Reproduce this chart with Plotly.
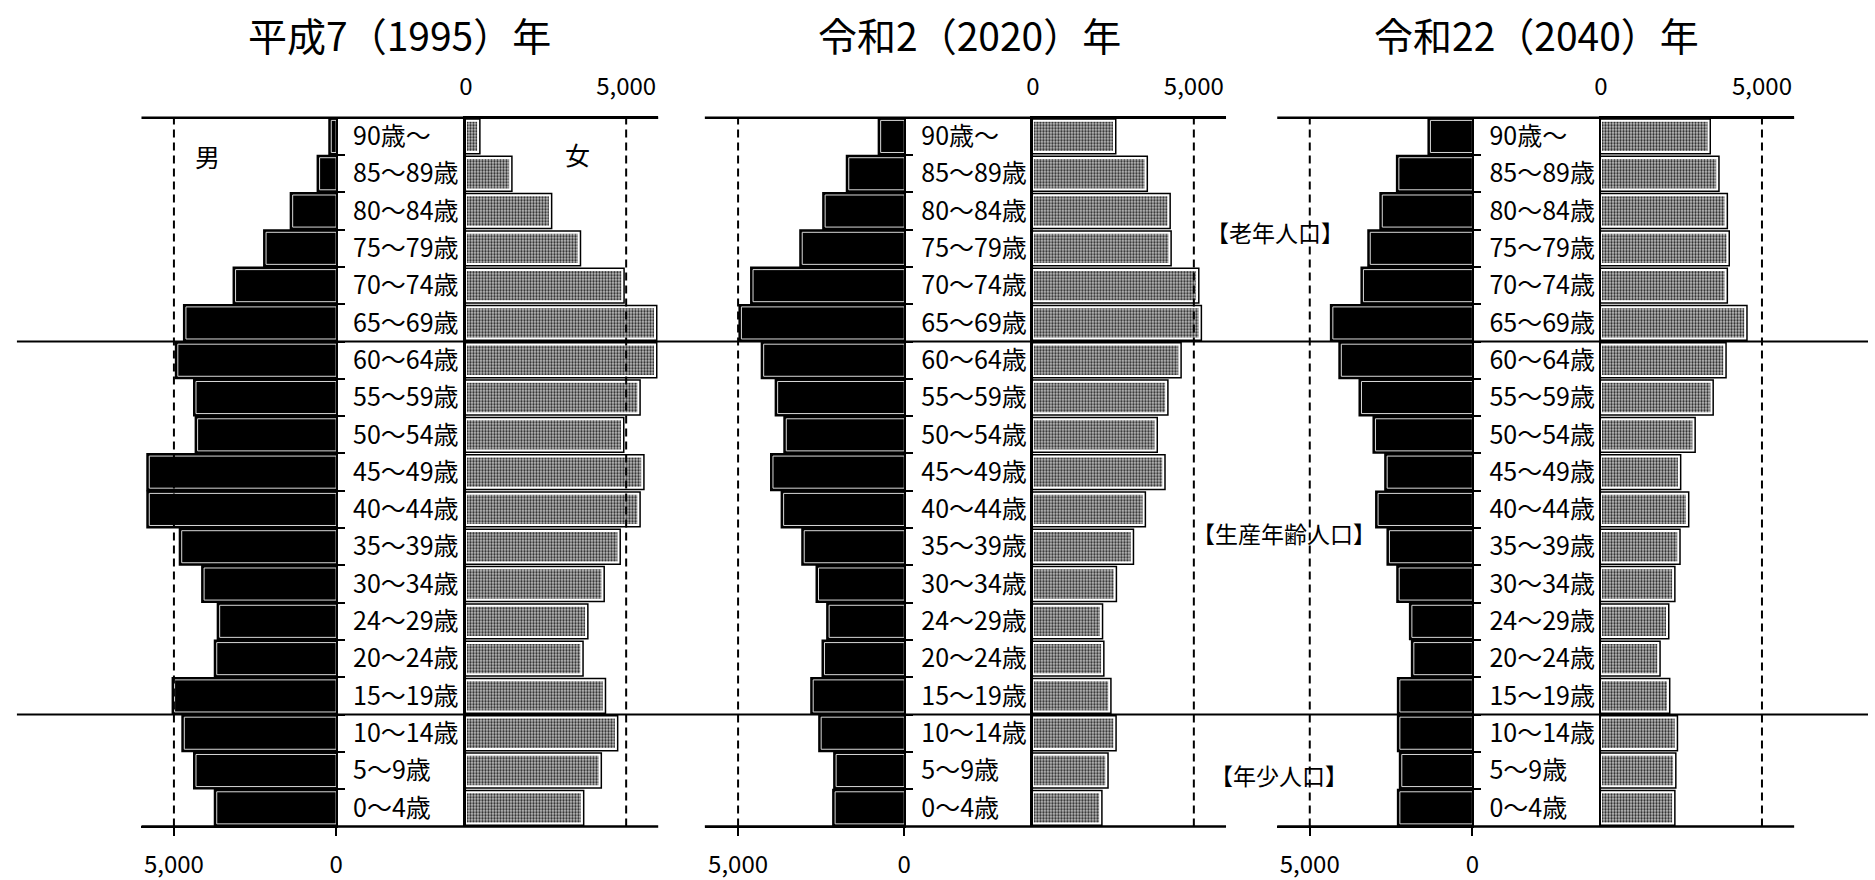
import plotly.graph_objects as go

# ---------------- data ----------------
AGES = ["90歳～", "85～89歳", "80～84歳", "75～79歳", "70～74歳", "65～69歳",
        "60～64歳", "55～59歳", "50～54歳", "45～49歳", "40～44歳", "35～39歳",
        "30～34歳", "24～29歳", "20～24歳", "15～19歳", "10～14歳", "5～9歳", "0～4歳"]

MALE_1995 = [150, 510, 1340, 2160, 3100, 4630, 4880, 4320, 4270, 5760, 5760, 4760,
             4070, 3590, 3680, 4980, 4680, 4320, 3680]
FEMALE_1995 = [380, 1380, 2620, 3520, 4880, 5900, 5900, 5380, 4870, 5500, 5380, 4760,
               4260, 3750, 3600, 4300, 4680, 4170, 3620]

MALE_2020 = [710, 1670, 2380, 3070, 4550, 4900, 4230, 3810, 3550, 3950, 3630, 3010,
             2580, 2260, 2400, 2740, 2500, 2050, 2080]
FEMALE_2020 = [2520, 3500, 4210, 4240, 5100, 5180, 4550, 4140, 3810, 4050, 3440, 3070,
               2540, 2110, 2150, 2370, 2530, 2280, 2090]

MALE_2040 = [1290, 2260, 2770, 3140, 3350, 4290, 4030, 3410, 2980, 2620, 2900, 2550,
             2250, 1860, 1800, 2230, 2230, 2170, 2230]
FEMALE_2040 = [3340, 3610, 3870, 3930, 3870, 4480, 3830, 3430, 2870, 2420, 2670, 2400,
               2240, 2050, 1780, 2080, 2320, 2270, 2240]

TITLES = ["平成7（1995）年", "令和2（2020）年", "令和22（2040）年"]
X_TICKS = [0, 5000]
REF_VALUE = 5000
AXIS_MAX = 6000
GROUP_LABELS = ["【老年人口】", "【生産年齢人口】", "【年少人口】"]
GROUP_BREAKS = ["65～69歳", "15～19歳"]   # last age of the group above each line

# ---------------- layout helpers ----------------
W, H = 1875, 880
FONT = "Noto Sans CJK JP"


def px(x):
    return x / W


def py(y):
    return 1 - y / H


Y_TOP, Y_BOT = 118, 834
Y_DOM = [py(Y_BOT), py(Y_TOP)]

PANELS = [
    dict(male=MALE_1995, female=FEMALE_1995, mdom=(135.5, 331.6), fdom=(462.4, 656.1), tx=395),
    dict(male=MALE_2020, female=FEMALE_2020, mdom=(703.1, 904.0), fdom=(1033.6, 1228.2), tx=970),
    dict(male=MALE_2040, female=FEMALE_2040, mdom=(1279.8, 1476.4), fdom=(1606.0, 1800.6), tx=1541),
]

fig = go.Figure()
layout = dict(
    width=W, height=H, margin=dict(l=0, r=0, t=0, b=0),
    paper_bgcolor="white", plot_bgcolor="white",
    barmode="overlay", showlegend=False,
    font=dict(family=FONT, color="black"),
)
shapes = []
annotations = []
NCAT = len(AGES)

for i, p in enumerate(PANELS):
    mx, fx = 2 * i + 1, 2 * i + 2
    mxn = "x" if mx == 1 else f"x{mx}"
    myn = "y" if mx == 1 else f"y{mx}"
    fxn, fyn = f"x{fx}", f"y{fx}"

    # male bars: outer black frame + black fill with thin light line
    fig.add_trace(go.Bar(y=AGES, x=p["male"], orientation="h", xaxis=mxn, yaxis=myn,
                         width=0.86, marker=dict(color="black", line=dict(color="black", width=6)),
                         hoverinfo="skip"))
    fig.add_trace(go.Bar(y=AGES, x=p["male"], orientation="h", xaxis=mxn, yaxis=myn,
                         width=0.86, marker=dict(color="black", line=dict(color="#d8d8d8", width=1)),
                         hoverinfo="skip"))
    # female bars: black frame + stippled grey fill
    fig.add_trace(go.Bar(y=AGES, x=p["female"], orientation="h", xaxis=fxn, yaxis=fyn,
                         width=0.84, marker=dict(color="white", line=dict(color="black", width=5)),
                         hoverinfo="skip"))
    fig.add_trace(go.Bar(y=AGES, x=p["female"], orientation="h", xaxis=fxn, yaxis=fyn,
                         width=0.84,
                         marker=dict(color="#9a9a9a",
                                     line=dict(color="white", width=2),
                                     pattern=dict(shape=".", fillmode="replace", bgcolor="#c2c2c2",
                                                  fgcolor="#262626", size=3, solidity=0.45)),
                         hoverinfo="skip"))

    tickfont = dict(family=FONT, size=24, color="black")
    # male value axis (bottom, reversed)
    layout["xaxis" if mx == 1 else f"xaxis{mx}"] = dict(
        domain=[px(p["mdom"][0]), px(p["mdom"][1])], range=[AXIS_MAX, 0], anchor=myn,
        side="bottom", tickvals=X_TICKS, tickformat=",d", ticks="outside", ticklen=8,
        tickwidth=2, tickcolor="black", showline=True, linecolor="black", linewidth=2,
        showgrid=False, zeroline=False, tickfont=tickfont, ticklabelstandoff=8, fixedrange=True)
    # male category axis on the right (age labels)
    layout["yaxis" if mx == 1 else f"yaxis{mx}"] = dict(
        domain=Y_DOM, type="category", categoryorder="array", categoryarray=AGES,
        range=[NCAT - 0.5, -0.5], anchor=mxn, side="right", ticks="outside", ticklen=7,
        tickwidth=2, tickcolor="black", tickson="boundaries", showline=True,
        linecolor="black", linewidth=2, showgrid=False,
        tickfont=dict(family=FONT, size=25, color="black"), ticklabelstandoff=10, fixedrange=True)
    # female value axis (top)
    layout[f"xaxis{fx}"] = dict(
        domain=[px(p["fdom"][0]), px(p["fdom"][1])], range=[0, AXIS_MAX], anchor=fyn,
        side="top", tickvals=X_TICKS, tickformat=",d", ticks="", showline=True,
        linecolor="black", linewidth=2, showgrid=False, zeroline=False, tickfont=tickfont,
        ticklabelstandoff=11, fixedrange=True)
    layout[f"yaxis{fx}"] = dict(
        domain=Y_DOM, type="category", categoryorder="array", categoryarray=AGES,
        range=[NCAT - 0.5, -0.5], anchor=fxn, side="left", ticks="", showticklabels=False,
        showline=True, linecolor="black", linewidth=2.5, showgrid=False, fixedrange=True)
    # secondary tick axes (opposite direction) as in the source
    layout[f"xaxis{7 + 2 * i}"] = dict(
        overlaying=mxn, anchor=myn, side="top", range=[0, AXIS_MAX], tickvals=X_TICKS,
        ticks="inside", ticklen=9, tickwidth=2, tickcolor="black", showticklabels=False,
        showline=False, showgrid=False, zeroline=False, fixedrange=True)
    layout[f"xaxis{8 + 2 * i}"] = dict(
        overlaying=fxn, anchor=fyn, side="bottom", range=[AXIS_MAX, 0], tickvals=X_TICKS,
        ticks="outside", ticklen=9, tickwidth=2, tickcolor="black", showticklabels=False,
        showline=False, showgrid=False, zeroline=False, fixedrange=True)

    # frame lines across the whole panel (top and bottom)
    for yy in Y_DOM:
        shapes.append(dict(type="line", xref="paper", yref="paper",
                           x0=px(p["mdom"][0]), x1=px(p["fdom"][1]), y0=yy, y1=yy,
                           line=dict(color="black", width=2.5), layer="above"))
    # dashed reference lines at 5,000
    for xn, yn in ((mxn, myn), (fxn, fyn)):
        shapes.append(dict(type="line", xref=xn, yref=f"{yn} domain", x0=REF_VALUE, x1=REF_VALUE,
                           y0=0, y1=1, line=dict(color="black", width=2, dash="8px,5px"),
                           layer="above"))

    annotations.append(dict(text=TITLES[i], x=px(p["tx"]), y=py(33), xref="paper", yref="paper",
                            xanchor="center", yanchor="middle", showarrow=False,
                            font=dict(family=FONT, size=39, color="black")))

# group separator lines spanning the full width
for name in GROUP_BREAKS:
    b = AGES.index(name) + 0.5
    shapes.append(dict(type="line", xref="paper", yref="y", x0=px(10), x1=1, y0=b, y1=b,
                       line=dict(color="black", width=2), layer="above"))

annotations += [
    dict(text="男", x=px(187), y=py(136), xref="paper", yref="paper", showarrow=False,
         font=dict(family=FONT, size=25, color="black")),
    dict(text="女", x=px(560), y=py(134), xref="paper", yref="paper", showarrow=False,
         font=dict(family=FONT, size=25, color="black")),
]
for lbl, (lx, ly) in zip(GROUP_LABELS, [(1206, 233), (1192, 538), (1210, 782)]):
    annotations.append(dict(text=lbl, x=px(lx), y=py(ly), xref="paper", yref="paper",
                            xanchor="left", yanchor="middle", showarrow=False,
                            font=dict(family=FONT, size=23, color="black")))

layout["shapes"] = shapes
layout["annotations"] = annotations
fig.update_layout(**layout)

fig.write_html("out.html", post_script="document.body.style.margin='0';",
               config={"displayModeBar": False, "staticPlot": True})
